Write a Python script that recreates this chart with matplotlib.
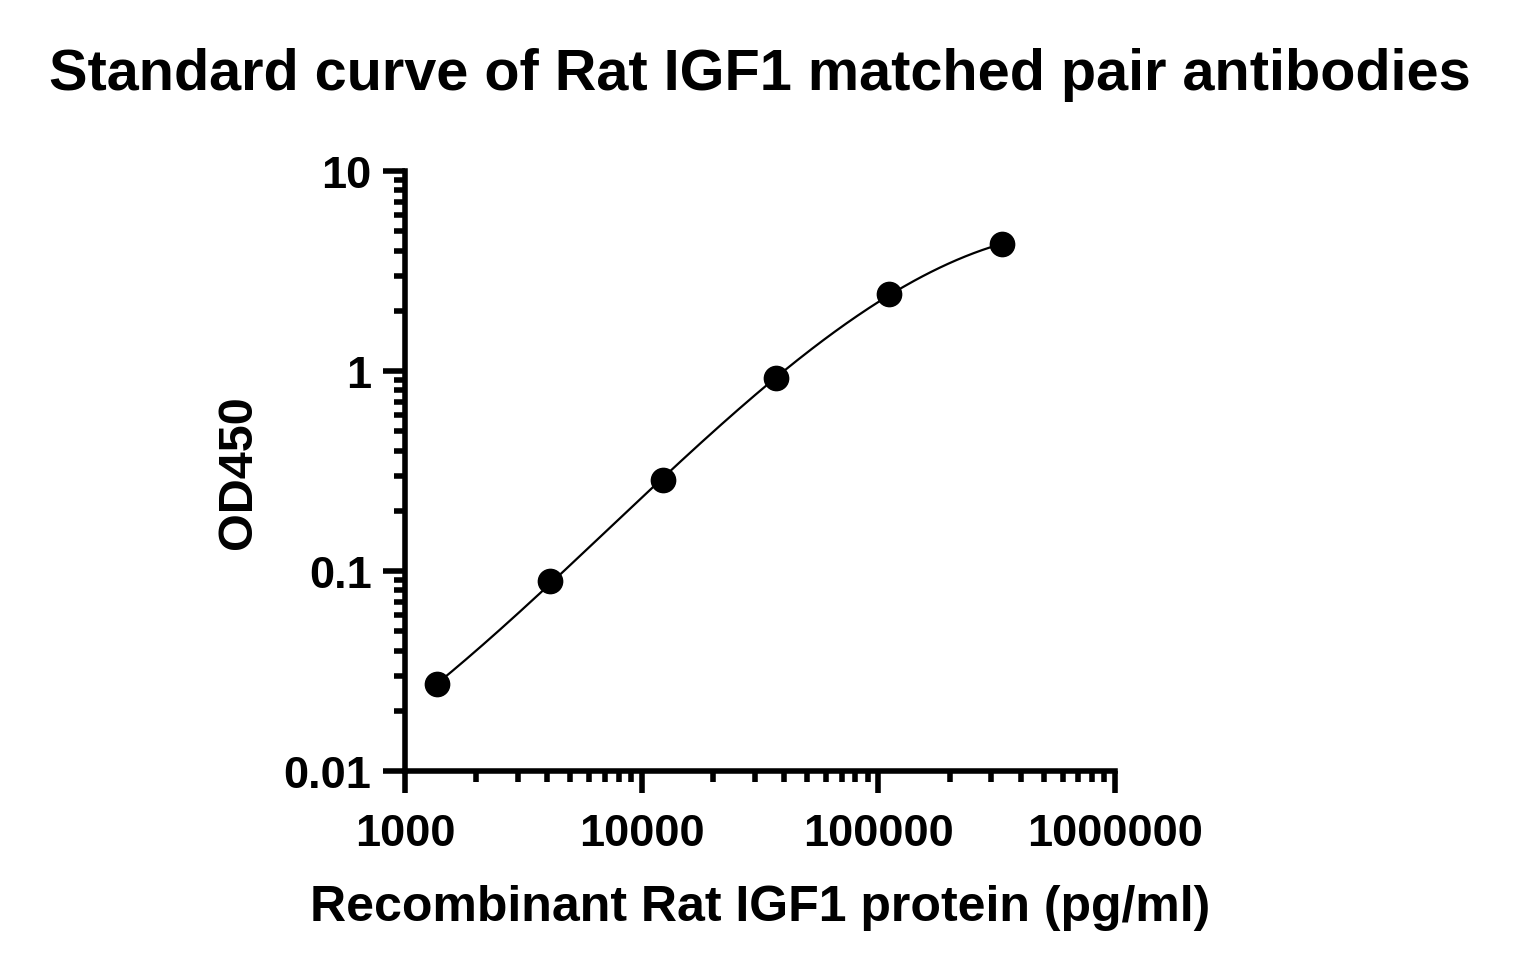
import numpy as np
import matplotlib
matplotlib.use('Agg')
import matplotlib.pyplot as plt
from matplotlib.ticker import LogLocator, FixedLocator, FixedFormatter, NullFormatter

# standard curve data (3-fold dilutions)
conc = [1372, 4115, 12346, 37037, 111111, 333333]
od450 = [0.0272, 0.0891, 0.286, 0.925, 2.44, 4.30]

x_ticks = [1000, 10000, 100000, 1000000]
x_labels = ['1000', '10000', '100000', '1000000']
y_ticks = [0.01, 0.1, 1, 10]
y_labels = ['0.01', '0.1', '1', '10']

plt.rcParams['font.family'] = ['Liberation Sans', 'DejaVu Sans']
plt.rcParams['font.weight'] = 'bold'

fig = plt.figure(figsize=(15.2, 9.78), dpi=100)
ax = fig.add_axes([0.2664, 0.2106, 0.4672, 0.6135])

# smooth fit through the points in log-log space
lx = np.log10(conc)
ly = np.log10(od450)
coef = np.polyfit(lx, ly, 3)
xs = np.linspace(lx[0], lx[-1], 200)
ax.plot(10 ** xs, 10 ** np.polyval(coef, xs), color='black', lw=1.6)
ax.plot(conc, od450, 'o', color='black', ms=17.5, clip_on=False)

ax.set_xscale('log')
ax.set_yscale('log')
ax.set_xlim(1000, 1000000)
ax.set_ylim(0.01, 10)

ax.xaxis.set_major_locator(FixedLocator(x_ticks))
ax.xaxis.set_major_formatter(FixedFormatter(x_labels))
ax.yaxis.set_major_locator(FixedLocator(y_ticks))
ax.yaxis.set_major_formatter(FixedFormatter(y_labels))
ax.xaxis.set_minor_locator(LogLocator(base=10, subs=np.arange(2, 10), numticks=20))
ax.yaxis.set_minor_locator(LogLocator(base=10, subs=np.arange(2, 10), numticks=20))
ax.xaxis.set_minor_formatter(NullFormatter())
ax.yaxis.set_minor_formatter(NullFormatter())

for s in ['top', 'right']:
    ax.spines[s].set_visible(False)
for s in ['left', 'bottom']:
    ax.spines[s].set_linewidth(4)

ax.tick_params(which='major', direction='out', length=16, width=4, labelsize=32.5)
ax.tick_params(axis='x', which='major', pad=14)
ax.tick_params(axis='y', which='major', pad=8)
ax.tick_params(which='minor', direction='out', length=8, width=4)
for lab in ax.get_xticklabels() + ax.get_yticklabels():
    lab.set_fontweight('bold')

ax.set_xlabel('Recombinant Rat IGF1 protein (pg/ml)', fontsize=36, fontweight='bold', labelpad=22)
ax.set_ylabel('OD450', fontsize=35, fontweight='bold', labelpad=16)
fig.text(0.5, 1 - 75 / 978, 'Standard curve of Rat IGF1 matched pair antibodies',
         fontsize=41.5, fontweight='bold', ha='center', va='center')

fig.savefig('out.png', dpi=100)
